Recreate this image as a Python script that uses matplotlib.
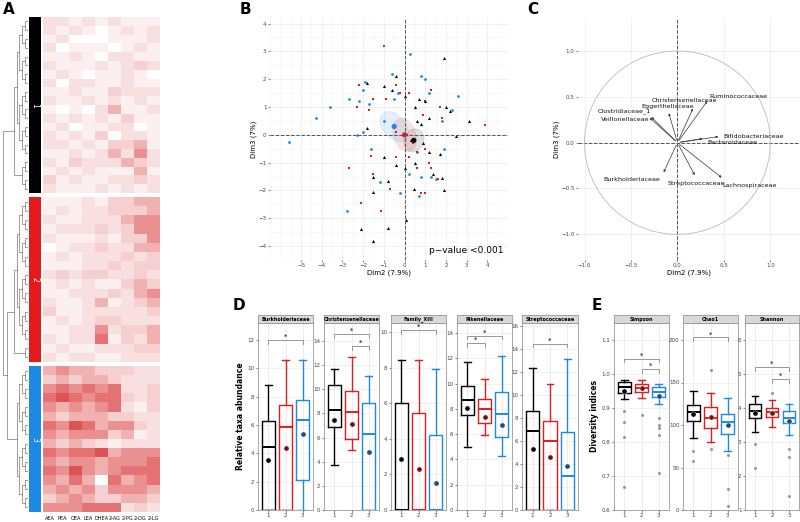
import numpy as np
import matplotlib
matplotlib.use("Agg")
import matplotlib.pyplot as plt
from matplotlib.colors import LinearSegmentedColormap
from matplotlib.patches import Ellipse

# ---------------- data ----------------
heat_cols = ["AEA", "PEA", "OEA", "LEA", "DHEA", "2-AG", "2-PG", "2-OG", "2-LG"]
cluster1 = ["221212111", "212101212", "120001112", "201110121", "112102211", "211121232",
            "121011210", "202211211", "112113222", "211212121", "101024112", "212121311",
            "120112201", "212130221", "221213341", "112124252", "213222432", "121211141",
            "312112232", "211121212"]
cluster2 = ["111213344", "121223334", "211222455", "122232355", "211121335", "012232244",
            "121222323", "111223233", "232332232", "121211343", "112223245", "211241234",
            "311222223", "121233222", "112252334", "212261324", "121122233", "212211222"]
cluster3 = ["454433322", "343443222", "565656223", "676566323", "545456213", "434443322",
            "657645532", "545553412", "434321222", "656674555", "545545556", "657545666",
            "546406456", "454535554", "345433443", "555666232"]
cluster_names = ["1", "2", "3"]
group_colors = ["#000000", "#e41a1c", "#1e88e5"]

blue_x = [-5.6, -4.3, -3.6, -2.7, -2.2, -2.0, -1.9, -2.8, -1.6, -1.0, -0.6, -0.3, 0.25, 0.8, 1.0, 1.2,
          2.6, 2.3, 1.8, -0.2, 0.7, 1.3, 0.8, 1.9, 0.6, -1.7, -2.3, -1.2, 1.5, -2.0, 0.2, -0.5]
blue_y = [-0.25, 0.6, 1.0, 1.3, 1.2, 1.6, 1.9, -2.75, -0.5, 0.5, 2.2, 1.5, 2.9, 2.1, 2.0, 1.5,
          1.4, 0.9, 0.5, -2.1, -2.2, -1.5, -1.5, -0.5, -0.6, 1.1, 0.0, -1.7, -1.6, 0.1, -1.4, 1.3]
red_x = [-1.0, -2.2, -1.5, -2.3, -1.7, -0.9, -0.4, -0.2, 0.2, 1.3, 1.0, 1.7, 1.8, 3.9, -2.7, -2.1,
         -1.15, -1.6, -0.7, -0.4, 0.2, 0.6, 1.2, 1.3, 0.6, 0.8, 1.0, 1.6, -1.5, -0.4, 0.1, 0.4, 0.9, 1.0]
red_y = [3.2, 1.8, 1.3, 1.0, 0.9, 1.3, 1.8, 1.5, 1.5, 1.6, 1.2, 1.0, 0.6, 0.35, -1.2, -2.45,
         -2.75, -0.75, -1.95, -0.8, -0.8, -0.6, -1.0, -1.2, -1.2, -2.1, -2.1, -1.6, -1.4, 0.1, 0.0, -0.3, 0.7, -0.5]
black_x = [1.9, -1.8, -1.0, -0.4, -0.6, 0.0, 0.5, 0.7, 1.0, 2.0, 2.2, 3.1, 2.5, 1.2, 0.8, -1.8, -1.0,
           -0.4, 0.0, 0.5, 1.2, 1.7, 1.4, 1.8, 1.9, 0.45, -1.5, -0.8, -0.8, 0.05, -2.1, -1.5, -1.5, 0.3, 0.6, 0.9]
black_y = [2.75, 1.85, 1.75, 2.1, 1.6, 1.4, 1.0, 1.3, 1.2, 1.0, 0.85, 0.5, -0.05, 0.6, 0.4, 0.25, -0.8,
           -1.1, -1.2, -1.0, -0.6, -0.7, -1.4, -1.55, -2.0, -1.95, -2.05, -1.65, -3.35, -3.05, -3.4, -3.8, -1.5, -0.2, 0.5, -0.3]
ell_center_x = [0.45, 0.0, -0.5]
ell_center_y = [-0.2, 0.0, 0.3]
ell_w = [0.8, 1.3, 1.5]
ell_h = [1.0, 1.0, 0.9]
ell_angle = [-70, -50, -30]

taxa = ["Ruminococcaceae", "Christensenellaceae", "Eggerthellaceae", "Clostridiaceae_1",
        "Veillonellaceae", "Bifidobacteriaceae", "Bacteroidaceae", "Burkholderiaceae",
        "Streptococcaceae", "Lachnospiraceae"]
taxa_x = [0.34, 0.18, -0.1, -0.3, -0.32, 0.47, 0.3, -0.16, 0.2, 0.5]
taxa_y = [0.48, 0.40, 0.35, 0.30, 0.29, 0.07, 0.05, -0.35, -0.38, -0.40]

# boxplot stats: (whislo, q1, med, q3, whishi, mean)
d_names = ["Burkholderiaceae", "Christensenellaceae", "Family_XIII", "Rikenellaceae", "Streptococcaceae"]
d_stats = [
    [(0, 0, 4.45, 6.3, 8.8, 3.55), (0, 0, 5.85, 7.4, 10.6, 4.4), (0, 2.15, 6.35, 7.8, 10.6, 5.35)],
    [(3.75, 6.9, 8.25, 10.35, 11.65, 7.5), (5.0, 5.9, 8.15, 9.85, 12.65, 7.1), (0, 0, 6.3, 8.85, 11.1, 4.8)],
    [(0, 0, 0, 6.0, 8.4, 2.85), (0, 0, 0, 5.45, 8.4, 2.3), (0, 0, 0, 4.2, 7.9, 1.5)],
    [(5.0, 7.5, 8.7, 9.8, 11.75, 8.1), (5.9, 6.9, 8.0, 8.8, 10.4, 7.35), (4.3, 5.8, 7.6, 9.3, 12.15, 6.7)],
    [(0, 0, 6.9, 8.65, 12.4, 5.3), (0, 0, 6.0, 7.75, 11.0, 4.6), (0, 0, 3.0, 6.8, 13.15, 3.8)],
]
d_ylim = [13.2, 15.5, 10.5, 14.8, 16.3]
d_ticks = [[0, 2, 4, 6, 8, 10, 12], [0, 2, 4, 6, 8, 10, 12, 14], [0, 2, 4, 6, 8, 10],
           [0, 2, 4, 6, 8, 10, 12, 14], [0, 2, 4, 6, 8, 10, 12, 14, 16]]
d_sig = [[(1, 3, 12.0)], [(1, 3, 14.6), (2, 3, 13.6)], [(1, 3, 10.1)], [(1, 2, 13.2), (1, 3, 13.8)], [(1, 3, 14.5)]]

e_names = ["Simpson", "Chao1", "Shannon"]
e_stats = [
    [(0.925, 0.945, 0.963, 0.975, 0.983, 0.95), (0.93, 0.947, 0.96, 0.97, 0.982, 0.958), (0.913, 0.932, 0.948, 0.962, 0.972, 0.935)],
    [(85, 105, 115, 123, 140, 113), (80, 96, 108, 121, 138, 109), (70, 90, 104, 113, 132, 100)],
    [(3.28, 3.7, 3.92, 4.13, 4.35, 3.85), (3.45, 3.75, 3.88, 4.0, 4.25, 3.86), (3.2, 3.55, 3.7, 3.9, 4.12, 3.62)],
]
e_out = [[[0.667, 0.815, 0.86, 0.89], [0.88], [0.71, 0.82, 0.85, 0.87, 0.84]],
         [[58, 70], [72, 165], [25, 5, 65]],
         [[2.25, 2.95], [4.45], [1.4, 2.55, 2.8]]]
e_ylim = [(0.6, 1.15), (0, 220), (1, 6.5)]
e_ticks = [[0.6, 0.7, 0.8, 0.9, 1.0, 1.1], [0, 50, 100, 150, 200], [1, 2, 3, 4, 5, 6]]
e_sig = [[(1, 3, 1.045), (2, 3, 1.015)], [(1, 3, 203)], [(1, 3, 5.2), (2, 3, 4.85)]]

# ---------------- figure ----------------
W, H = 800, 522
fig = plt.figure(figsize=(8, 5.22), dpi=100)
def ax_px(x0, y0, x1, y1):
    return fig.add_axes([x0 / W, 1 - y1 / H, (x1 - x0) / W, (y1 - y0) / H])

cmap = LinearSegmentedColormap.from_list("wr", ["#ffffff", "#f6d0d0", "#e57272", "#c81818"])
clusters = [cluster1, cluster2, cluster3]
cl_px = [(17, 193), (197, 362), (366, 512)]
for ci, (rows, (y0, y1)) in enumerate(zip(clusters, cl_px)):
    mat = np.array([[int(c) for c in r] for r in rows])
    ax = ax_px(43, y0, 160, y1)
    ax.imshow(mat, cmap=cmap, vmin=0, vmax=9, aspect="auto", interpolation="nearest")
    ax.set_xticks([]); ax.set_yticks([])
    for s in ax.spines.values(): s.set_visible(False)
    if ci == 2:
        ax.set_xticks(range(len(heat_cols)))
        ax.set_xticklabels(heat_cols, fontsize=3.6)
        ax.tick_params(length=0, pad=3)
    sax = ax_px(29, y0, 41, y1)
    sax.set_facecolor(group_colors[ci]); sax.set_xticks([]); sax.set_yticks([])
    for s in sax.spines.values(): s.set_visible(False)
    sax.text(0.5, 0.5, cluster_names[ci], color="white", rotation=270, fontsize=5.5,
             ha="center", va="center", transform=sax.transAxes)

# dendrogram (simple hierarchical merging of leaves)
dax = ax_px(2, 17, 28, 512)
dax.set_xlim(0, 1); dax.set_ylim(512, 17); dax.axis("off")
tops = []
for rows, (y0, y1) in zip(clusters, cl_px):
    n = len(rows)
    nodes = [(y0 + (i + 0.5) * (y1 - y0) / n, 1.0) for i in range(n)]
    x = 1.0
    while len(nodes) > 1:
        x -= 0.11
        new = []
        for k in range(0, len(nodes) - 1, 2):
            (ya, xa), (yb, xb) = nodes[k], nodes[k + 1]
            dax.plot([xa, x, x, xb], [ya, ya, yb, yb], color="#555555", lw=0.4)
            new.append(((ya + yb) / 2, x))
        if len(nodes) % 2: new.append(nodes[-1])
        nodes = new
    tops.append(nodes[0])
(y2, x2), (y3, x3) = tops[1], tops[2]
dax.plot([x2, 0.2, 0.2, x3], [y2, y2, y3, y3], color="#555555", lw=0.4)
(y1_, x1_) = tops[0]
m = (y2 + y3) / 2
dax.plot([x1_, 0.05, 0.05, 0.2], [y1_, y1_, m, m], color="#555555", lw=0.4)

fig.text(3 / W, 1 - 14 / H, "A", fontsize=11, fontweight="bold")
fig.text(240 / W, 1 - 14 / H, "B", fontsize=11, fontweight="bold")
fig.text(527 / W, 1 - 14 / H, "C", fontsize=11, fontweight="bold")
fig.text(233 / W, 1 - 310 / H, "D", fontsize=11, fontweight="bold")
fig.text(592 / W, 1 - 310 / H, "E", fontsize=11, fontweight="bold")

def minimal(ax):
    ax.grid(True, color="#ebebeb", lw=0.5); ax.set_axisbelow(True)
    for s in ax.spines.values(): s.set_visible(False)
    ax.tick_params(labelsize=4, length=1.5, color="#888888", labelcolor="#444444", pad=1)

# ---- B ----
ax = ax_px(270, 18, 508, 260)
minimal(ax)
ax.set_xlim(-6.5, 5.0); ax.set_ylim(-4.5, 4.2)
ax.set_xticks(range(-5, 5)); ax.set_yticks(range(-4, 5))
ax.set_xticks(np.arange(-6.5, 5, 0.5), minor=True); ax.set_yticks(np.arange(-4.5, 4.5, 0.5), minor=True)
ax.grid(True, which="minor", color="#f4f4f4", lw=0.4)
ax.tick_params(which="minor", length=0)
ax.axhline(0, color="#555555", ls="--", lw=0.7); ax.axvline(0, color="#555555", ls="--", lw=0.7)
for i in range(3):
    ax.add_patch(Ellipse((ell_center_x[i], ell_center_y[i]), ell_w[i], ell_h[i], angle=ell_angle[i],
                         facecolor=group_colors[i], alpha=0.12, edgecolor=group_colors[i], lw=0.6))
ax.scatter(blue_x, blue_y, s=4, color=group_colors[2], marker="o", lw=0)
ax.scatter(red_x, red_y, s=4, color=group_colors[1], marker="s", lw=0)
ax.scatter(black_x, black_y, s=5, color="black", marker="^", lw=0)
ax.scatter(ell_center_x, ell_center_y, s=14, color=group_colors, marker="o", lw=0)
ax.set_xlabel("Dim2 (7.9%)", fontsize=5, labelpad=1)
ax.set_ylabel("Dim3 (7%)", fontsize=5, labelpad=1)
ax.text(4.8, -4.25, "p\u2212value <0.001", fontsize=6.5, ha="right")

# ---- C ----
ax = ax_px(578, 18, 800, 260)
minimal(ax)
ax.set_xlim(-1.07, 1.32); ax.set_ylim(-1.28, 1.36)
ax.set_xticks([-1, -0.5, 0, 0.5, 1.0]); ax.set_yticks([-1, -0.5, 0, 0.5, 1.0])
ax.set_xticklabels(["\u22121.0", "\u22120.5", "0.0", "0.5", "1.0"])
ax.set_yticklabels(["\u22121.0", "\u22120.5", "0.0", "0.5", "1.0"])
ax.axhline(0, color="#555555", ls="--", lw=0.7); ax.axvline(0, color="#555555", ls="--", lw=0.7)
t = np.linspace(0, 2 * np.pi, 300)
ax.plot(np.cos(t), np.sin(t), color="#bbbbbb", lw=0.6)
lab_off = {"Ruminococcaceae": (0.0, 0.02, "left"), "Christensenellaceae": (-0.1, 0.06, "center"),
           "Eggerthellaceae": (0.0, 0.04, "center"), "Clostridiaceae_1": (0.02, 0.04, "right"),
           "Veillonellaceae": (0.02, -0.04, "right"), "Bifidobacteriaceae": (0.03, 0.0, "left"),
           "Bacteroidaceae": (0.02, -0.05, "left"), "Burkholderiaceae": (-0.02, -0.05, "right"),
           "Streptococcaceae": (0.0, -0.07, "center"), "Lachnospiraceae": (-0.02, -0.07, "left")}
for nm, x, y in zip(taxa, taxa_x, taxa_y):
    ax.annotate("", xy=(x, y), xytext=(0, 0),
                arrowprops=dict(arrowstyle="-|>", color="#333333", lw=0.5, mutation_scale=3))
    dx, dy, ha = lab_off[nm]
    ax.text(x + dx, y + dy, nm, fontsize=4.6, ha=ha, va="center", color="#111111")
ax.set_xlabel("Dim2 (7.9%)", fontsize=5, labelpad=1)
ax.set_ylabel("Dim3 (7%)", fontsize=5, labelpad=1)

# ---- boxplot facets ----
def facet(x0, x1, name, stats, ylim, ticks, sigs, outl=None, ylabel=None):
    ax = ax_px(x0, 323, x1, 510)
    ax.set_facecolor("white")
    ax.grid(True, color="#ebebeb", lw=0.5); ax.set_axisbelow(True)
    for s in ax.spines.values(): s.set_color("#999999"); s.set_linewidth(0.6)
    ax.set_ylim(*ylim); ax.set_xlim(0.4, 3.6)
    ax.set_yticks(ticks); ax.set_xticks([1, 2, 3])
    ax.tick_params(labelsize=4, length=1.5, color="#888888", labelcolor="#444444", pad=1)
    for i, (lo, q1, med, q3, hi, mn) in enumerate(stats):
        c = group_colors[i]
        b = dict(whislo=lo, q1=q1, med=med, q3=q3, whishi=hi, fliers=[])
        ax.bxp([b], positions=[i + 1], widths=0.75, showfliers=False, patch_artist=False,
               boxprops=dict(color=c, lw=1.0), medianprops=dict(color=c, lw=1.4),
               whiskerprops=dict(color=c, lw=1.0), capprops=dict(color=c, lw=1.0))
        ax.scatter([i + 1], [mn], s=14, color=["black", "#7a0d0d", "#1a4f80"][i],
                   edgecolor="white", lw=0.3, zorder=5)
        if outl:
            ax.scatter([i + 1] * len(outl[i]), outl[i], s=1.5, color="#999999", zorder=4)
    span = ylim[1] - ylim[0]
    for a, b, y in sigs:
        ax.plot([a, a, b, b], [y - 0.02 * span, y, y, y - 0.02 * span], color="#888888", lw=0.6)
        ax.text((a + b) / 2, y, "*", fontsize=5, ha="center", va="bottom")
    sx = ax_px(x0, 315, x1, 323)
    sx.set_facecolor("#d9d9d9"); sx.set_xticks([]); sx.set_yticks([])
    for s in sx.spines.values(): s.set_color("#999999"); s.set_linewidth(0.6)
    sx.text(0.5, 0.45, name, fontsize=3.5, ha="center", va="center", fontweight="bold",
            transform=sx.transAxes)
    if ylabel:
        ax.set_ylabel(ylabel, fontsize=5.5, fontweight="bold", labelpad=2)
    return ax

d_x = [(258, 313), (324, 379), (391, 446), (457, 512), (522, 578)]
for k in range(5):
    facet(d_x[k][0], d_x[k][1], d_names[k], d_stats[k], (0, d_ylim[k]), d_ticks[k], d_sig[k],
          ylabel="Relative taxa abundance" if k == 0 else None)
e_x = [(614, 669), (683, 738), (745, 799)]
for k in range(3):
    facet(e_x[k][0], e_x[k][1], e_names[k], e_stats[k], e_ylim[k], e_ticks[k], e_sig[k],
          outl=e_out[k], ylabel="Diversity indices" if k == 0 else None)

fig.savefig("out.png", dpi=100)
